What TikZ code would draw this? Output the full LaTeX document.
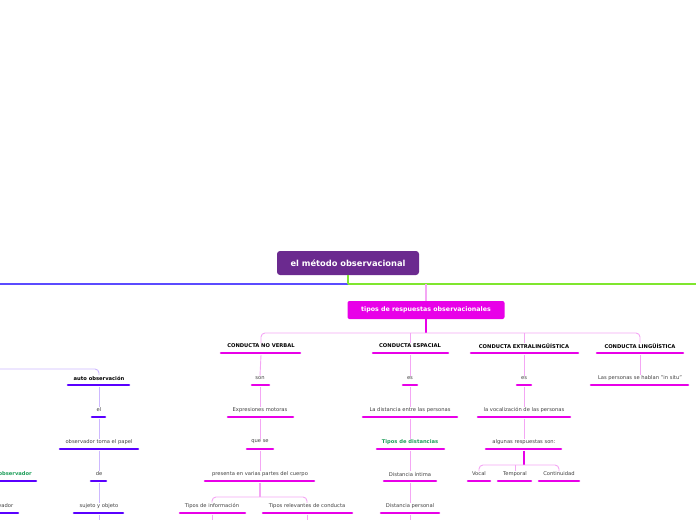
\documentclass[tikz,border=0pt]{standalone}
\usepackage{fontspec}
\setmainfont{DejaVu Sans}
\definecolor{rootc}{HTML}{6B2A8F}
\definecolor{mag}{HTML}{E800E8}
\definecolor{lmag}{HTML}{F4A6F4}
\definecolor{vio}{HTML}{5A00FF}
\definecolor{lvio}{HTML}{CDB8FF}
\definecolor{bline}{HTML}{5B4BFF}
\definecolor{gline}{HTML}{7FE62E}
\definecolor{gtxt}{HTML}{1E9E5A}
\newcommand\itm[7]{%
  \node[lbl] (#1) at (#2,#3) {#6};
  \draw[bar,#7] (#4,#3+7) -- (#5,#3+7);
  \coordinate (#1-b) at (#2,#3+8.5);}
\begin{document}
\begin{tikzpicture}[x=1pt,y=-1pt,
  lbl/.style={font=\fontsize{5.2}{6}\selectfont,text=black!75,inner sep=0.5pt},
  ttl/.style={font=\fontsize{5.2}{6}\selectfont\bfseries,text=black,inner sep=0.5pt},
  bar/.style={line width=2.6pt,line cap=round},
  cmag/.style={lmag,line width=0.9pt,rounded corners=4pt},
  cvio/.style={lvio,line width=0.9pt,rounded corners=4pt}]
\useasboundingbox (0,0) rectangle (696,520);
\clip (0,0) rectangle (696,520);
% root
\node[fill=rootc,rounded corners=3pt,text=white,font=\fontsize{8.3}{9}\selectfont\bfseries,minimum width=142pt,minimum height=24pt] (root) at (348,263) {el método observacional};
\draw[bline,line width=1.6pt] (0,284) -- (348,284);
\draw[gline,line width=1.6pt] (348,284) -- (696,284);
\draw[gline,line width=1.6pt] (root.south) -- (348,284);
% tipos
\node[fill=mag,rounded corners=2pt,text=white,font=\fontsize{6.3}{7}\selectfont\bfseries,minimum width=157pt,minimum height=18pt] (tipos) at (426,310) {tipos de respuestas observacionales};
\draw[cmag,line width=1.2pt] (426,284) -- (tipos.north);
\draw[mag,line width=1.6pt] (tipos.south) -- (426,333);
% titles
\node[ttl] (nv) at (261,346) {CONDUCTA NO VERBAL}; \draw[bar,mag] (221,353) -- (300,353);
\node[ttl] (es) at (410,346) {CONDUCTA ESPACIAL}; \draw[bar,mag] (373,353) -- (448,353);
\node[ttl] (ex) at (524,346) {CONDUCTA EXTRALINGÜÍSTICA}; \draw[bar,mag] (471,353) -- (578,353);
\node[ttl] (li) at (640,346) {CONDUCTA LINGÜÍSTICA}; \draw[bar,mag] (597,353) -- (683,353);
\draw[cmag] (nv.north) -- (261,333) -- (640,333) -- (li.north);
\draw[cmag] (410,333) -- (es.north);
\draw[cmag] (524,333) -- (ex.north);
\coordinate (nv-b) at (261,355); \coordinate (es-b) at (410,355);
\coordinate (ex-b) at (524,355); \coordinate (li-b) at (640,355);
% no verbal chain
\itm{n1}{260}{378}{252}{269}{son}{mag}
\itm{n2}{260}{410}{228}{293}{Expresiones motoras}{mag}
\itm{n3}{260}{442}{247}{273}{que se}{mag}
\itm{n4}{260}{474}{205}{314}{presenta en varias partes del cuerpo}{mag}
\itm{n5}{212}{506}{180}{245}{Tipos de información}{mag}
\itm{n6}{307}{506}{263}{352}{Tipos relevantes de conducta}{mag}
\draw[cmag] (nv-b) -- (n1.north); \draw[cmag] (n1-b) -- (n2.north);
\draw[cmag] (n2-b) -- (n3.north); \draw[cmag] (n3-b) -- (n4.north);
\draw[cmag,line width=1.4pt] (n4-b) -- (260,497);
\draw[cmag] (n5.north) -- (212,497) -- (307,497) -- (n6.north);
\coordinate (n5e) at (212,520); \coordinate (n6e) at (307,520);
\draw[cmag] (n5-b) -- (n5e); \draw[cmag] (n6-b) -- (n6e);
% espacial chain
\itm{e1}{410}{378}{403}{417}{es}{mag}
\itm{e2}{410}{410}{363}{457}{La distancia entre las personas}{mag}
\node[lbl,text=gtxt,font=\fontsize{5.2}{6}\selectfont\bfseries] (e3) at (410,442) {Tipos de distancias};
\draw[bar,mag] (377,449) -- (444,449); \coordinate (e3-b) at (410,450.5);
\itm{e4}{410}{474}{384}{436}{Distancia íntima}{mag}
\itm{e5}{410}{506}{381}{439}{Distancia personal}{mag}
\draw[cmag] (es-b) -- (e1.north); \draw[cmag] (e1-b) -- (e2.north);
\draw[cmag] (e2-b) -- (e3.north); \draw[cmag] (e3-b) -- (e4.north);
\draw[cmag] (e4-b) -- (e5.north);
\coordinate (e5e) at (410,520); \draw[cmag] (e5-b) -- (e5e);
% extra chain
\itm{x1}{524}{378}{517}{531}{es}{mag}
\itm{x2}{524}{410}{478}{570}{la vocalización de las personas}{mag}
\itm{x3}{524}{442}{486}{561}{algunas respuestas son:}{mag}
\itm{x4}{479}{474}{468}{490}{Vocal}{mag}
\itm{x5}{515}{474}{498}{531}{Temporal}{mag}
\itm{x6}{559}{474}{539}{579}{Continuidad}{mag}
\draw[cmag] (ex-b) -- (x1.north); \draw[cmag] (x1-b) -- (x2.north);
\draw[cmag] (x2-b) -- (x3.north);
\draw[mag,line width=1.4pt] (x3-b) -- (524,465);
\draw[cmag] (x4.north) -- (479,465) -- (559,465) -- (x6.north);
\draw[cmag] (515,465) -- (x5.north);
% linguistica
\itm{l1}{640}{378}{591}{688}{Las personas se hablan "in situ"}{mag}
\draw[cmag] (li-b) -- (l1.north);
% left branch
\node[ttl] (ao) at (99,378) {auto observación}; \draw[bar,vio] (68,385) -- (129,385);
\coordinate (ao-b) at (99,386.5);
\coordinate (lst) at (0,369);
\draw[cvio] (lst) -- (99,369) -- (ao.north);
\itm{a1}{99}{410}{92}{105}{el}{vio}
\itm{a2}{99}{442}{60}{138}{observador toma el papel}{vio}
\itm{a3}{99}{474}{91}{106}{de}{vio}
\itm{a4}{99}{506}{74}{123}{sujeto y objeto}{vio}
\draw[cvio] (ao-b) -- (a1.north); \draw[cvio] (a1-b) -- (a2.north);
\draw[cvio] (a2-b) -- (a3.north); \draw[cvio] (a3-b) -- (a4.north);
\coordinate (a4e) at (99,520); \draw[cvio] (a4-b) -- (a4e);
\node[lbl,text=gtxt,font=\fontsize{5.2}{6}\selectfont\bfseries,anchor=east] (o1) at (32.5,474) {Tipos de observador};
\draw[bar,vio] (-5,481) -- (36,481);
\node[lbl,anchor=east] (o2) at (14,506) {observador};
\draw[bar,vio] (-5,513) -- (18,513);
\end{tikzpicture}
\end{document}
